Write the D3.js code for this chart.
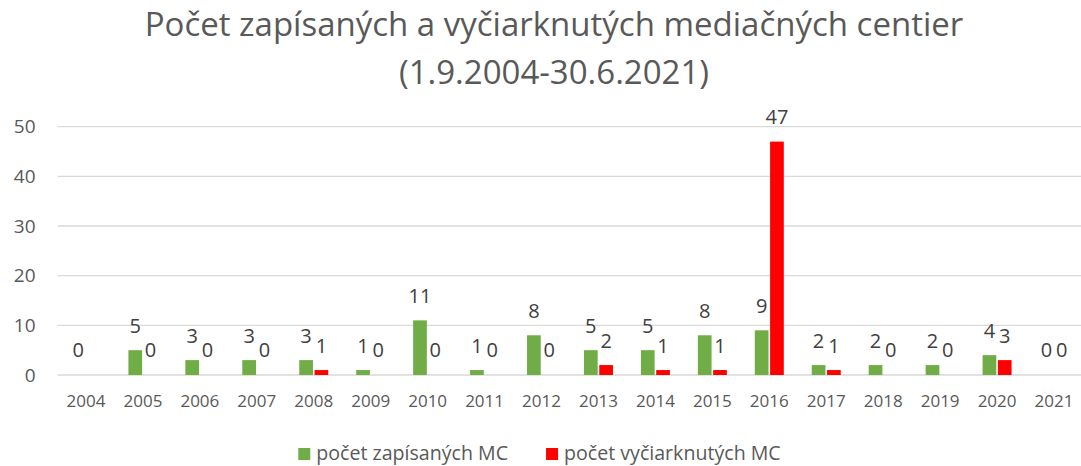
<!DOCTYPE html>
<html>
<head>
    <meta charset="utf-8">
    <title>Počet zapísaných a vyčiarknutých mediačných centier</title>
    <script src="https://d3js.org/d3.v7.min.js"></script>
    <style>
        body { margin: 0; background: #fff; }
        text { font-family: "Open Sans", "Noto Sans", sans-serif; fill: #595959; }
    </style>
</head>
<body>
    <div id="chart"></div>
    <script>
        // data
        var years = ["2004", "2005", "2006", "2007", "2008", "2009", "2010", "2011", "2012",
            "2013", "2014", "2015", "2016", "2017", "2018", "2019", "2020", "2021"];
        var zapisane = [0, 5, 3, 3, 3, 1, 11, 1, 8, 5, 5, 8, 9, 2, 2, 2, 4, 0];
        var vyciarknute = [null, 0, 0, 0, 1, 0, 0, 0, 0, 2, 1, 1, 47, 1, 0, 0, 3, 0];
        var seriesNames = ["počet zapísaných MC", "počet vyčiarknutých MC"];
        var seriesColors = ["#70AD47", "#FF0000"];
        var yTicks = [0, 10, 20, 30, 40, 50];

        var W = 1081, H = 466;
        var margin = { top: 126.7, right: 0, bottom: 91, left: 57.5 },
            width = 1025,
            height = H - margin.top - margin.bottom;

        var svg = d3.select("#chart")
            .append("svg")
            .attr("width", W)
            .attr("height", H);

        // title
        var title = svg.append("text")
            .attr("text-anchor", "middle")
            .style("font-size", "33px");
        title.append("tspan").attr("x", 554).attr("y", 36)
            .text("Počet zapísaných a vyčiarknutých mediačných centier");
        title.append("tspan").attr("x", 554).attr("y", 84)
            .text("(1.9.2004-30.6.2021)");

        var g = svg.append("g")
            .attr("transform", "translate(" + margin.left + "," + margin.top + ")");

        // scales
        var x = d3.scaleBand()
            .domain(years)
            .range([0, width]);

        var xs = d3.scaleBand()
            .domain([0, 1])
            .range([x.bandwidth() / 2 - 14.5, x.bandwidth() / 2 + 14.5])
            .paddingInner(3 / 29);

        var y = d3.scaleLinear()
            .domain([0, 50])
            .range([height, 0]);

        // gridlines
        g.append("g")
            .selectAll("line")
            .data(yTicks)
            .enter()
            .append("line")
            .attr("x1", 0)
            .attr("x2", width)
            .attr("y1", function (d) { return y(d); })
            .attr("y2", function (d) { return y(d); })
            .style("stroke", "#D9D9D9")
            .style("stroke-width", 1.3);

        // y axis labels
        var yAxis = g.append("g")
            .call(d3.axisLeft(y).tickValues(yTicks).tickSize(0).tickPadding(22));
        yAxis.select(".domain").remove();
        yAxis.selectAll("text")
            .style("font-size", "19px")
            .style("font-family", null)
            .attr("fill", null);

        // x axis labels
        var xAxis = g.append("g")
            .attr("transform", "translate(0," + height + ")")
            .call(d3.axisBottom(x).tickSize(0).tickPadding(20));
        xAxis.select(".domain").remove();
        xAxis.selectAll("text")
            .style("font-size", "17px")
            .style("font-family", null)
            .attr("fill", null);

        // bars + labels
        var data = years.map(function (yr, i) {
            return { year: yr, values: [zapisane[i], vyciarknute[i]] };
        });

        var groups = g.selectAll(".yr")
            .data(data)
            .enter()
            .append("g")
            .attr("class", "yr")
            .attr("transform", function (d) { return "translate(" + x(d.year) + ",0)"; });

        var cells = groups.selectAll(".cell")
            .data(function (d) {
                return d.values.map(function (v, s) { return { s: s, v: v }; })
                    .filter(function (e) { return e.v !== null; });
            })
            .enter();

        cells.append("rect")
            .attr("x", function (d) { return xs(d.s); })
            .attr("width", xs.bandwidth())
            .attr("y", function (d) { return y(d.v); })
            .attr("height", function (d) { return height - y(d.v); })
            .style("fill", function (d) { return seriesColors[d.s]; });

        cells.append("text")
            .attr("x", function (d) { return xs(d.s) + xs.bandwidth() / 2; })
            .attr("y", function (d) { return y(d.v) - 17.5; })
            .attr("text-anchor", "middle")
            .style("font-size", "20px")
            .style("fill", "#404040")
            .text(function (d) { return d.v; });

        // legend
        var legend = svg.append("g");
        var lx = 0;
        seriesNames.forEach(function (name, i) {
            var item = legend.append("g").attr("transform", "translate(" + lx + ",0)");
            item.append("rect")
                .attr("x", 0).attr("y", -12)
                .attr("width", 12).attr("height", 12)
                .style("fill", seriesColors[i]);
            var t = item.append("text")
                .attr("x", 18).attr("y", 0)
                .style("font-size", "19.6px")
                .text(name);
            lx += 18 + t.node().getComputedTextLength() + 38;
        });
        var lw = lx - 38;
        legend.attr("transform", "translate(" + (539.5 - lw / 2) + ",460)");
    </script>
</body>
</html>
